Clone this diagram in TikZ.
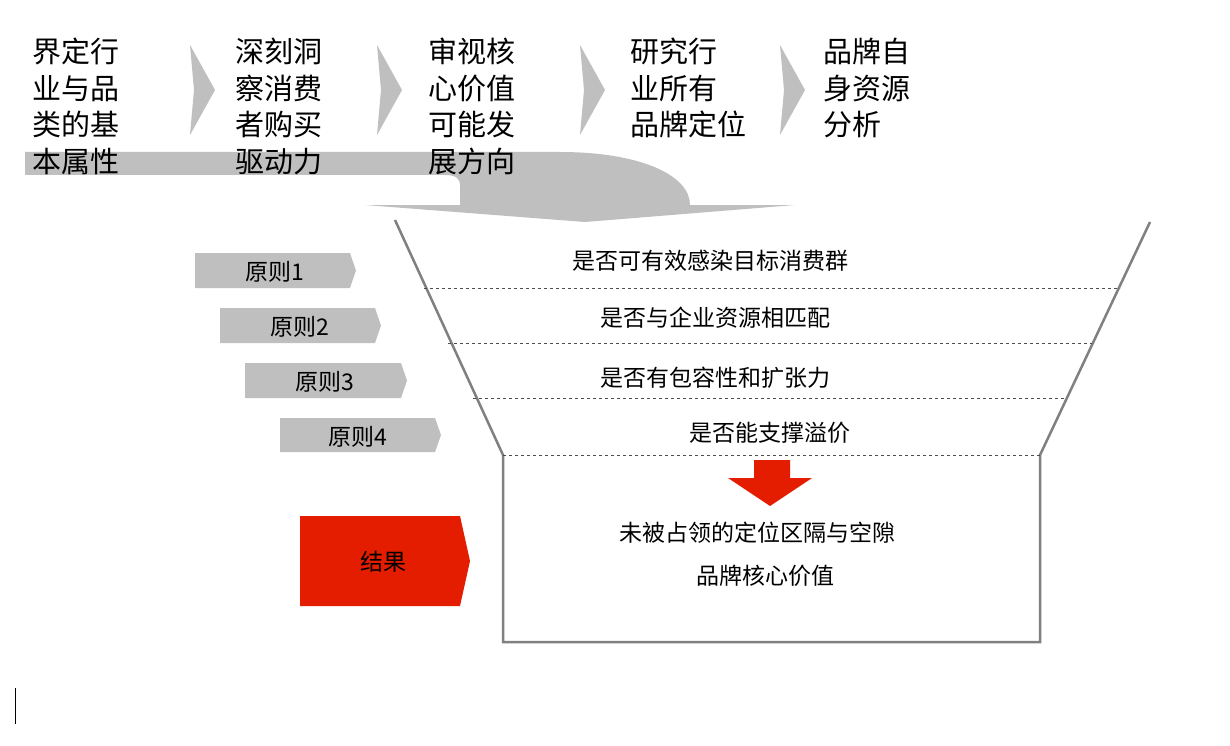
\documentclass[tikz,border=0pt]{standalone}
\usepackage{fontspec}
\setmainfont{Noto Sans CJK SC}
\begin{document}
\begin{tikzpicture}[x=1pt,y=-1pt,
  top/.style={anchor=north west,align=left,font=\fontsize{29}{36.5}\selectfont,inner sep=0pt},
  rule/.style={font=\fontsize{23}{28}\selectfont,inner sep=0pt},
  tag/.style={fill=black!25,draw=none},
  chev/.style={fill=black!25,draw=none},
  fun/.style={draw=black!50,line width=2.5pt},
  dashline/.style={draw=black!70,dashed,line width=0.6pt}]
\useasboundingbox (0,0) rectangle (1230,746);
% band arrow
\fill[black!25] (25,152) -- (560,152) .. controls (640,152) and (690,175) .. (690,205) -- (795,205) -- (585,222) -- (365,205) -- (460,205) -- (460,185) .. controls (460,178) and (455,175) .. (445,175) -- (25,175) -- cycle;
% chevrons
\foreach \x in {190,377,580,780}
  \fill[chev] (\x,45) -- (\x+25,90) -- (\x,135) -- (\x+4,90) -- cycle;
\node[top] (t1) at (32,38) {界定行\\业与品\\类的基\\本属性};
\node[top] (t2) at (235,38) {深刻洞\\察消费\\者购买\\驱动力};
\node[top] (t3) at (428,38) {审视核\\心价值\\可能发\\展方向};
\node[top] (t4) at (630,38) {研究行\\业所有\\品牌定位};
\node[top] (t5) at (823,38) {品牌自\\身资源\\分析};
% funnel
\draw[fun] (395,220) -- (503,455) -- (503,642) -- (1040,642) -- (1040,455) -- (1150,222);
\draw[dashline] (424,288) -- (1120,288);
\draw[dashline] (448,343) -- (1092,343);
\draw[dashline] (473,398) -- (1065,398);
\draw[dashline] (503,455) -- (1040,455);
\node[rule] (r1) at (710,261) {是否可有效感染目标消费群};
\node[rule] (r2) at (715,318) {是否与企业资源相匹配};
\node[rule] (r3) at (715,378) {是否有包容性和扩张力};
\node[rule] (r4) at (770,433) {是否能支撑溢价};
\fill[red!75!orange!90!black] (754,460) -- (790,460) -- (790,478) -- (812,478) -- (770,506) -- (728,478) -- (754,478) -- cycle;
\node[rule] (res1) at (757,533) {未被占领的定位区隔与空隙};
\node[rule] (res2) at (765,576) {品牌核心价值};
% tags
\fill[tag] (195,253) -- (350,253) -- (356,270.5) -- (350,288) -- (195,288) -- cycle;
\fill[tag] (220,308) -- (375,308) -- (381,325.5) -- (375,343) -- (220,343) -- cycle;
\fill[tag] (245,363) -- (401,363) -- (407,380.5) -- (401,398) -- (245,398) -- cycle;
\fill[tag] (280,418) -- (435,418) -- (441,435) -- (435,452) -- (280,452) -- cycle;
\node[rule] (p1) at (275,272) {原则1};
\node[rule] (p2) at (300,327) {原则2};
\node[rule] (p3) at (325,382) {原则3};
\node[rule] (p4) at (358,437) {原则4};
\fill[red!75!orange!90!black] (300,516) -- (460,516) -- (470,561) -- (460,606) -- (300,606) -- cycle;
\node[rule] (res) at (383,562) {结果};
\draw[line width=1pt] (15,688) -- (15,724);
\end{tikzpicture}
\end{document}
